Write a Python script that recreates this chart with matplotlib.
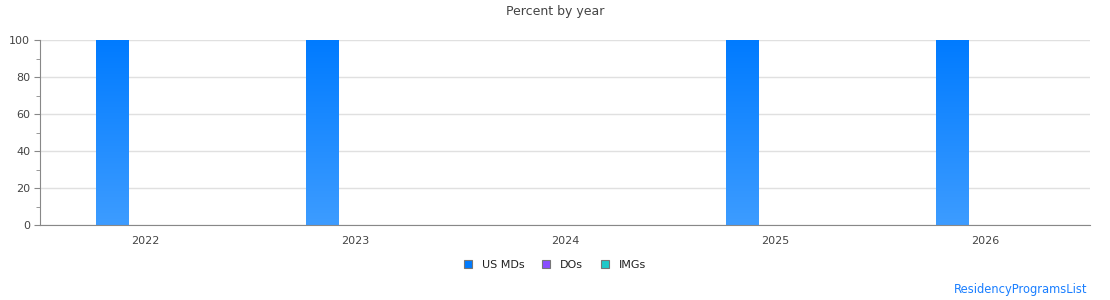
import matplotlib
matplotlib.use("Agg")
import matplotlib.pyplot as plt
import numpy as np
from matplotlib.patches import Patch
from matplotlib.colors import LinearSegmentedColormap

years = ["2022", "2023", "2024", "2025", "2026"]
us_mds = [100, 100, 0, 100, 100]
dos = [0, 0, 0, 0, 0]
imgs = [0, 0, 0, 0, 0]
series_names = ["US MDs", "DOs", "IMGs"]
series_colors = ["#007bff", "#8a4dff", "#20c9c9"]

fig = plt.figure(figsize=(11.1, 3.0), dpi=100)
ax = fig.add_axes([40/1110, 0.25, 1050/1110, 185/300])

x = np.arange(len(years))
w = 0.157
offsets = [-0.157, 0.0, 0.157]
grad = LinearSegmentedColormap.from_list("g", ["#3d9cff", "#007bff"])
grad_img = np.linspace(0, 1, 256).reshape(-1, 1)

for vals, off, col in zip([us_mds, dos, imgs], offsets, series_colors):
    bars = ax.bar(x + off, vals, width=w, color=col, zorder=2, linewidth=0)
    if col == series_colors[0]:
        for b in bars:
            h = b.get_height()
            if h <= 0:
                continue
            b.set_facecolor("none")
            bx = b.get_x()
            im = ax.imshow(grad_img, cmap=grad, aspect="auto", origin="lower",
                           extent=[bx, bx + b.get_width(), 0, h * 0.995], zorder=2)
            im.set_clip_path(b)

ax.set_xlim(-0.5, 4.5)
ax.set_ylim(0, 100)
ax.set_xticks(x)
ax.set_xticklabels(years)
ax.set_yticks([0, 20, 40, 60, 80, 100])
ax.set_yticks(np.arange(10, 100, 20), minor=True)
ax.grid(axis="y", color="#e0e0e0", linewidth=1, zorder=0)
for s in ["top", "right"]:
    ax.spines[s].set_visible(False)
for s in ["left", "bottom"]:
    ax.spines[s].set_color("#888888")
ax.tick_params(axis="x", length=0, labelsize=8, colors="#444444", pad=8)
ax.tick_params(axis="y", which="major", length=4, labelsize=8, colors="#444444", pad=3)
ax.tick_params(axis="y", which="minor", length=3, color="#888888")
ax.tick_params(axis="y", which="major", color="#888888")

fig.text(0.5, 1 - 12/300, "Percent by year", ha="center", va="center",
         fontsize=9, color="#444444")

handles = [Patch(facecolor=c, edgecolor="#777777", linewidth=0.8) for c in series_colors]
fig.legend(handles, series_names, loc="center", bbox_to_anchor=(0.5, 1 - 265/300),
           ncol=3, frameon=False, fontsize=8, handlelength=0.7, handleheight=0.7,
           columnspacing=1.6, handletextpad=0.9, labelcolor="#222222")

fig.text(1087/1110, 1 - 290/300, "ResidencyProgramsList", ha="right", va="center",
         fontsize=8.3, color="#1a7fff")

fig.savefig("out.png", dpi=100)
